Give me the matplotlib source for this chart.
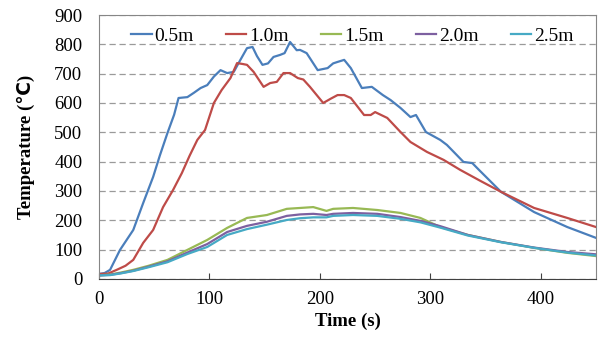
import matplotlib.pyplot as plt

plt.rcParams['font.family'] = ['Liberation Serif', 'DejaVu Sans']

# 0.5 m
t_05 = [0, 5, 10, 19, 31, 40, 49, 55, 62, 68, 72, 80, 86, 92, 98, 104, 110, 116, 122, 128,
        134, 139, 143, 148, 153, 158, 164, 168, 173, 179, 182, 188, 198, 207, 212, 216, 222,
        228, 238, 247, 257, 264, 273, 282, 287, 296, 309, 315, 322, 330, 338, 344, 364, 394,
        424, 450]
T_05 = [17, 20, 31, 99, 167, 259, 348, 420, 498, 560, 617, 620, 635, 651, 661, 690, 712, 702,
        706, 747, 787, 791, 760, 730, 735, 757, 764, 770, 808, 780, 781, 770, 712, 719, 735,
        740, 747, 719, 651, 655, 627, 610, 583, 552, 559, 501, 474, 457, 430, 399, 395, 372,
        297, 228, 177, 140]

# 1.0 m
t_10 = [0, 8, 16, 24, 31, 40, 49, 58, 67, 75, 82, 89, 96, 104, 111, 119, 125, 130, 134, 140,
        149, 155, 161, 167, 173, 180, 185, 191, 203, 210, 216, 222, 228, 240, 246, 250, 261,
        273, 282, 297, 312, 327, 345, 364, 394, 424, 450]
T_10 = [17, 18, 31, 45, 65, 123, 167, 245, 303, 361, 420, 474, 508, 600, 644, 685, 736, 733,
        730, 706, 655, 668, 672, 702, 702, 685, 680, 655, 600, 615, 627, 627, 617, 559, 559,
        569, 549, 501, 467, 433, 406, 372, 335, 297, 242, 208, 177]

# 1.5 m, 2.0 m, 2.5 m share the time base
t_far = [0, 10, 20, 31, 45, 62, 80, 98, 116, 134, 152, 170, 182, 194, 206, 212, 230, 252,
         273, 291, 309, 334, 364, 394, 424, 450]
T_15 = [12, 15, 22, 31, 45, 65, 99, 133, 174, 208, 218, 239, 242, 245, 232, 239, 242, 235,
        225, 208, 177, 150, 126, 106, 89, 78]
T_20 = [12, 14, 20, 28, 42, 60, 90, 119, 160, 181, 195, 215, 220, 222, 218, 222, 225, 222,
        211, 198, 180, 150, 126, 107, 92, 84]
T_25 = [12, 13, 19, 27, 40, 57, 85, 109, 150, 170, 185, 201, 207, 210, 210, 215, 218, 215,
        205, 193, 175, 148, 125, 106, 90, 80]

fig = plt.figure(figsize=(6.02, 3.41), dpi=100)
ax = fig.add_axes([0.1645, 0.182, 0.8255, 0.774])

lw = 1.6
ax.plot(t_05, T_05, color='#4A7EBB', lw=lw, label='0.5m')
ax.plot(t_10, T_10, color='#BE4B48', lw=lw, label='1.0m')
ax.plot(t_far, T_15, color='#98B954', lw=lw, label='1.5m')
ax.plot(t_far, T_20, color='#7D60A0', lw=lw, label='2.0m')
ax.plot(t_far, T_25, color='#46AAC5', lw=lw, label='2.5m')

ax.set_xlim(0, 450)
ax.set_ylim(0, 900)
ax.set_xticks([0, 100, 200, 300, 400])
ax.set_yticks(range(0, 1000, 100))
ax.yaxis.grid(True, linestyle=(0, (5, 3)), color='#9a9a9a', lw=0.9)
ax.set_axisbelow(True)
ax.tick_params(axis='x', direction='in', length=4, color='#404040', labelsize=13.5, pad=9)
ax.tick_params(axis='y', length=0, labelsize=13.5, pad=12)
for s in ax.spines.values():
    s.set_color('#868686')
ax.spines['bottom'].set_color('#404040')

ax.set_xlabel('Time (s)', fontsize=13.5, fontweight='bold', labelpad=3)
ax.set_ylabel('Temperature (℃)', fontsize=13.5, fontweight='bold', labelpad=14)

ax.legend(loc='upper center', ncol=5, frameon=False, fontsize=14, handlelength=1.05,
          handletextpad=0.15, columnspacing=1.65, bbox_to_anchor=(0.51, 1.02))

fig.savefig('out.png', dpi=100)
